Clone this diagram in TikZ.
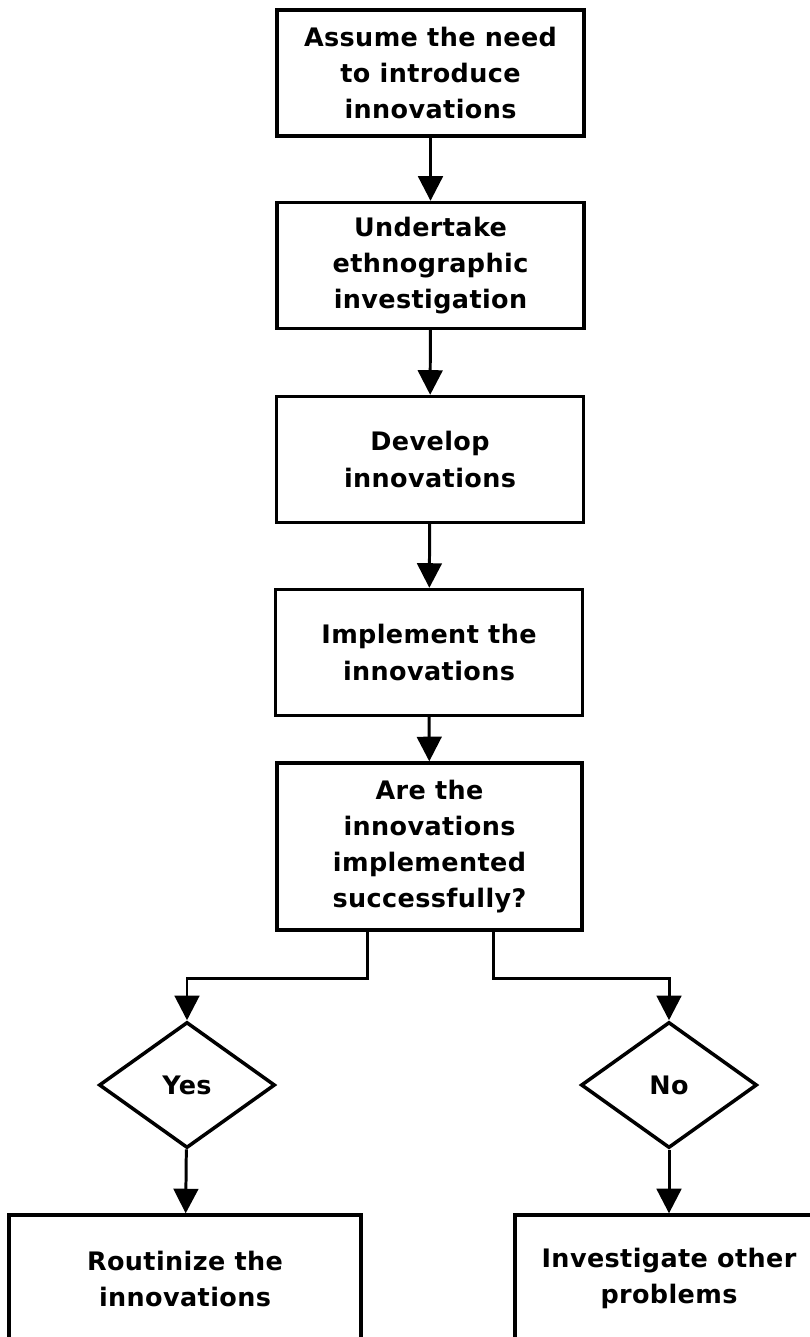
\documentclass[tikz,border=0pt]{standalone}
\usepackage{fontspec}
\setmainfont{DejaVu Sans}[LetterSpace=1.5]
\usepackage{tikz}
\usetikzlibrary{shapes.geometric, arrows.meta, positioning, calc}

\begin{document}
\begin{tikzpicture}[
    process/.style={rectangle, draw=black, line width=1.9pt, fill=white, minimum width=#1, minimum height=2.52cm, align=center, inner sep=0pt, font=\bfseries\fontsize{14.5}{20.5}\selectfont},
    process/.default=6.14cm,
    decision/.style={diamond, draw=black, line width=2pt, minimum width=3.52cm, minimum height=2.52cm, inner sep=0pt, font=\bfseries\fontsize{14.5}{20.5}\selectfont},
    arrow/.style={-{Triangle[width=14pt, length=14pt]}, line width=1.7pt, color=black}
]
\useasboundingbox (0,0) rectangle (16.2,-26.74);
\clip (0,0) rectangle (16.2,-26.74);

% Main steps
\node[process] (assume) at (8.61,-1.46) {Assume the need\\to introduce\\innovations};
\node[process] (ethno) at (8.61,-5.31) {Undertake\\ethnographic\\investigation};
\node[process] (develop) at (8.60,-9.19) {Develop\\innovations};
\node[process] (implement) at (8.58,-13.05) {Implement the\\innovations};
\node[process=6.10cm, minimum height=3.34cm] (success) at (8.59,-16.93) {Are the\\innovations\\implemented\\successfully?};

% Outcomes
\node[decision] (yes) at (3.74,-21.70) {Yes};
\node[decision] (no) at (13.38,-21.70) {No};
\node[process=7.04cm, minimum height=2.54cm] (routine) at (3.70,-25.57) {Routinize the\\innovations};
\node[process=6.16cm, minimum height=2.54cm] (other) at (13.38,-25.57) {Investigate other\\problems};

% Links between steps
\draw[arrow] (assume) -- (ethno);
\draw[arrow] (ethno) -- (develop);
\draw[arrow] (develop) -- (implement);
\draw[arrow] (implement) -- (success);

% Branches
\draw[arrow] ([xshift=-1.25cm]success.south) -- ++(0,-0.94) -| (yes);
\draw[arrow] ([xshift=1.27cm]success.south) -- ++(0,-0.94) -| (no);
\draw[arrow] (yes) -- (routine);
\draw[arrow] (no) -- (other);

\end{tikzpicture}
\end{document}
